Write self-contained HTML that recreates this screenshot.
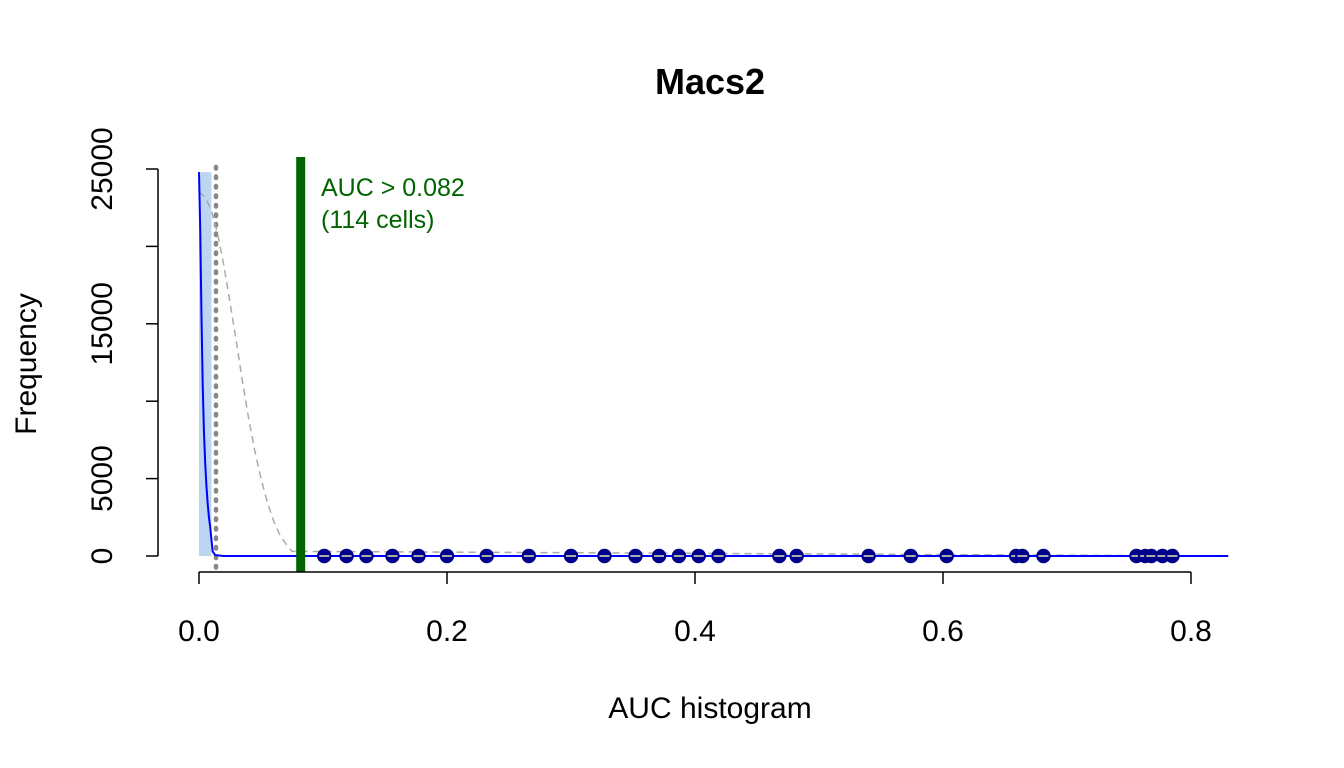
<!DOCTYPE html>
<html><head><meta charset="utf-8"><style>
html,body{margin:0;padding:0;background:#fff}
svg{display:block;font-family:"Liberation Sans",sans-serif}
</style></head><body>
<svg id="chart" width="1344" height="768">
<text x="710" y="94" text-anchor="middle" font-size="36" font-weight="bold">Macs2</text>
<text x="710" y="718" text-anchor="middle" font-size="30">AUC histogram</text>
<text transform="translate(36,364) rotate(-90)" text-anchor="middle" font-size="30">Frequency</text>
<g id="plot"></g>
</svg>
<script>
const xTicks=[0,0.2,0.4,0.6,0.8];
const xTickLabels=["0.0","0.2","0.4","0.6","0.8"];
const yTicks=[0,5000,10000,15000,20000,25000];
const yTickLabels=["0","5000","","15000","","25000"];
const histBins=[0,0.01];
const histCounts=[24800];
const densX=[0,0.001,0.002,0.003,0.004,0.005,0.006,0.007,0.008,0.009,0.01,0.011,0.013,0.02,0.83];
const densY=[24800,21000,15500,11000,8000,6000,4500,3400,2500,1900,1100,300,60,0,0];
const fitX=[0,0.005,0.01,0.015,0.02,0.025,0.03,0.035,0.04,0.045,0.05,0.055,0.06,0.065,0.07,0.075,0.83];
const fitY=[23500,23200,22300,20800,18800,16400,13900,11300,8900,6800,5000,3500,2300,1400,800,300,0];
const cellAUC=[0.101,0.119,0.135,0.156,0.177,0.200,0.232,0.266,0.300,0.327,0.352,0.371,0.387,0.403,0.419,0.468,0.482,0.540,0.574,0.603,0.659,0.664,0.681,0.756,0.763,0.768,0.777,0.785];
const threshold=0.082;
const gray=0.0137;
const X=v=>199+v*1240;
const Y=v=>556-v*(387/25000);
const NS="http://www.w3.org/2000/svg";
const plot=document.getElementById('plot');
function mk(t,a){const e=document.createElementNS(NS,t);for(const k in a)e.setAttribute(k,a[k]);plot.appendChild(e);return e;}
histCounts.forEach((c,i)=>{
 const r=mk('rect',{x:X(histBins[i]),y:Y(c),width:X(histBins[i+1])-X(histBins[i]),height:Y(0)-Y(c),fill:'#bcd5f0'});
 
 
});
const gd=mk('line',{x1:X(gray),x2:X(gray),y1:167,y2:572,stroke:'#888',"stroke-width":4.5,"stroke-dasharray":"1.5,8","stroke-linecap":"round"});


const fp=mk('polyline',{points:fitX.map((x,i)=>X(x)+','+Y(fitY[i])).join(' '),fill:'none',stroke:'#aaa',"stroke-width":1.5,"stroke-dasharray":"7,5"});


const dp=mk('polyline',{points:densX.map((x,i)=>X(x)+','+Y(densY[i])).join(' '),fill:'none',stroke:'#0000ff',"stroke-width":2});


const dd=mk('line',{x1:X(0.02),x2:X(0.83),y1:Y(0),y2:Y(0),stroke:'#0000ff',"stroke-width":2,"stroke-dasharray":"8,8"});


const th=mk('rect',{x:X(threshold)-4.5,y:157,width:9,height:415,fill:'#006400'});


const t1=mk('text',{x:321,y:196,fill:'#006400',"font-size":25});t1.textContent='AUC > 0.082';


const t2=mk('text',{x:321,y:228,fill:'#006400',"font-size":25});t2.textContent='(114 cells)';


cellAUC.forEach(v=>{
 const c=mk('circle',{cx:X(v),cy:Y(0),r:7.2,fill:'#00008b'});
 
 
 mk('line',{x1:X(v)-5,x2:X(v)+5,y1:Y(0),y2:Y(0),stroke:'#aaa',"stroke-width":2});
});
const xa=mk('line',{x1:X(0),x2:X(0.8),y1:572,y2:572,stroke:'#000',"stroke-width":1.5});


xTicks.forEach((v,i)=>{
 mk('line',{x1:X(v),x2:X(v),y1:572,y2:584,stroke:'#000',"stroke-width":1.5});
 const t=mk('text',{x:X(v),y:641,"text-anchor":"middle","font-size":30});t.textContent=xTickLabels[i];
 
 
});
const ya=mk('line',{x1:158,x2:158,y1:Y(0),y2:Y(25000),stroke:'#000',"stroke-width":1.5});


yTicks.forEach((v,i)=>{
 mk('line',{x1:146,x2:158,y1:Y(v),y2:Y(v),stroke:'#000',"stroke-width":1.5});
 if(yTickLabels[i]){
 const t=mk('text',{transform:`translate(112,${Y(v)}) rotate(-90)`,"text-anchor":"middle","font-size":30});t.textContent=yTickLabels[i];
 
 
 }
});
</script>
</body></html>
